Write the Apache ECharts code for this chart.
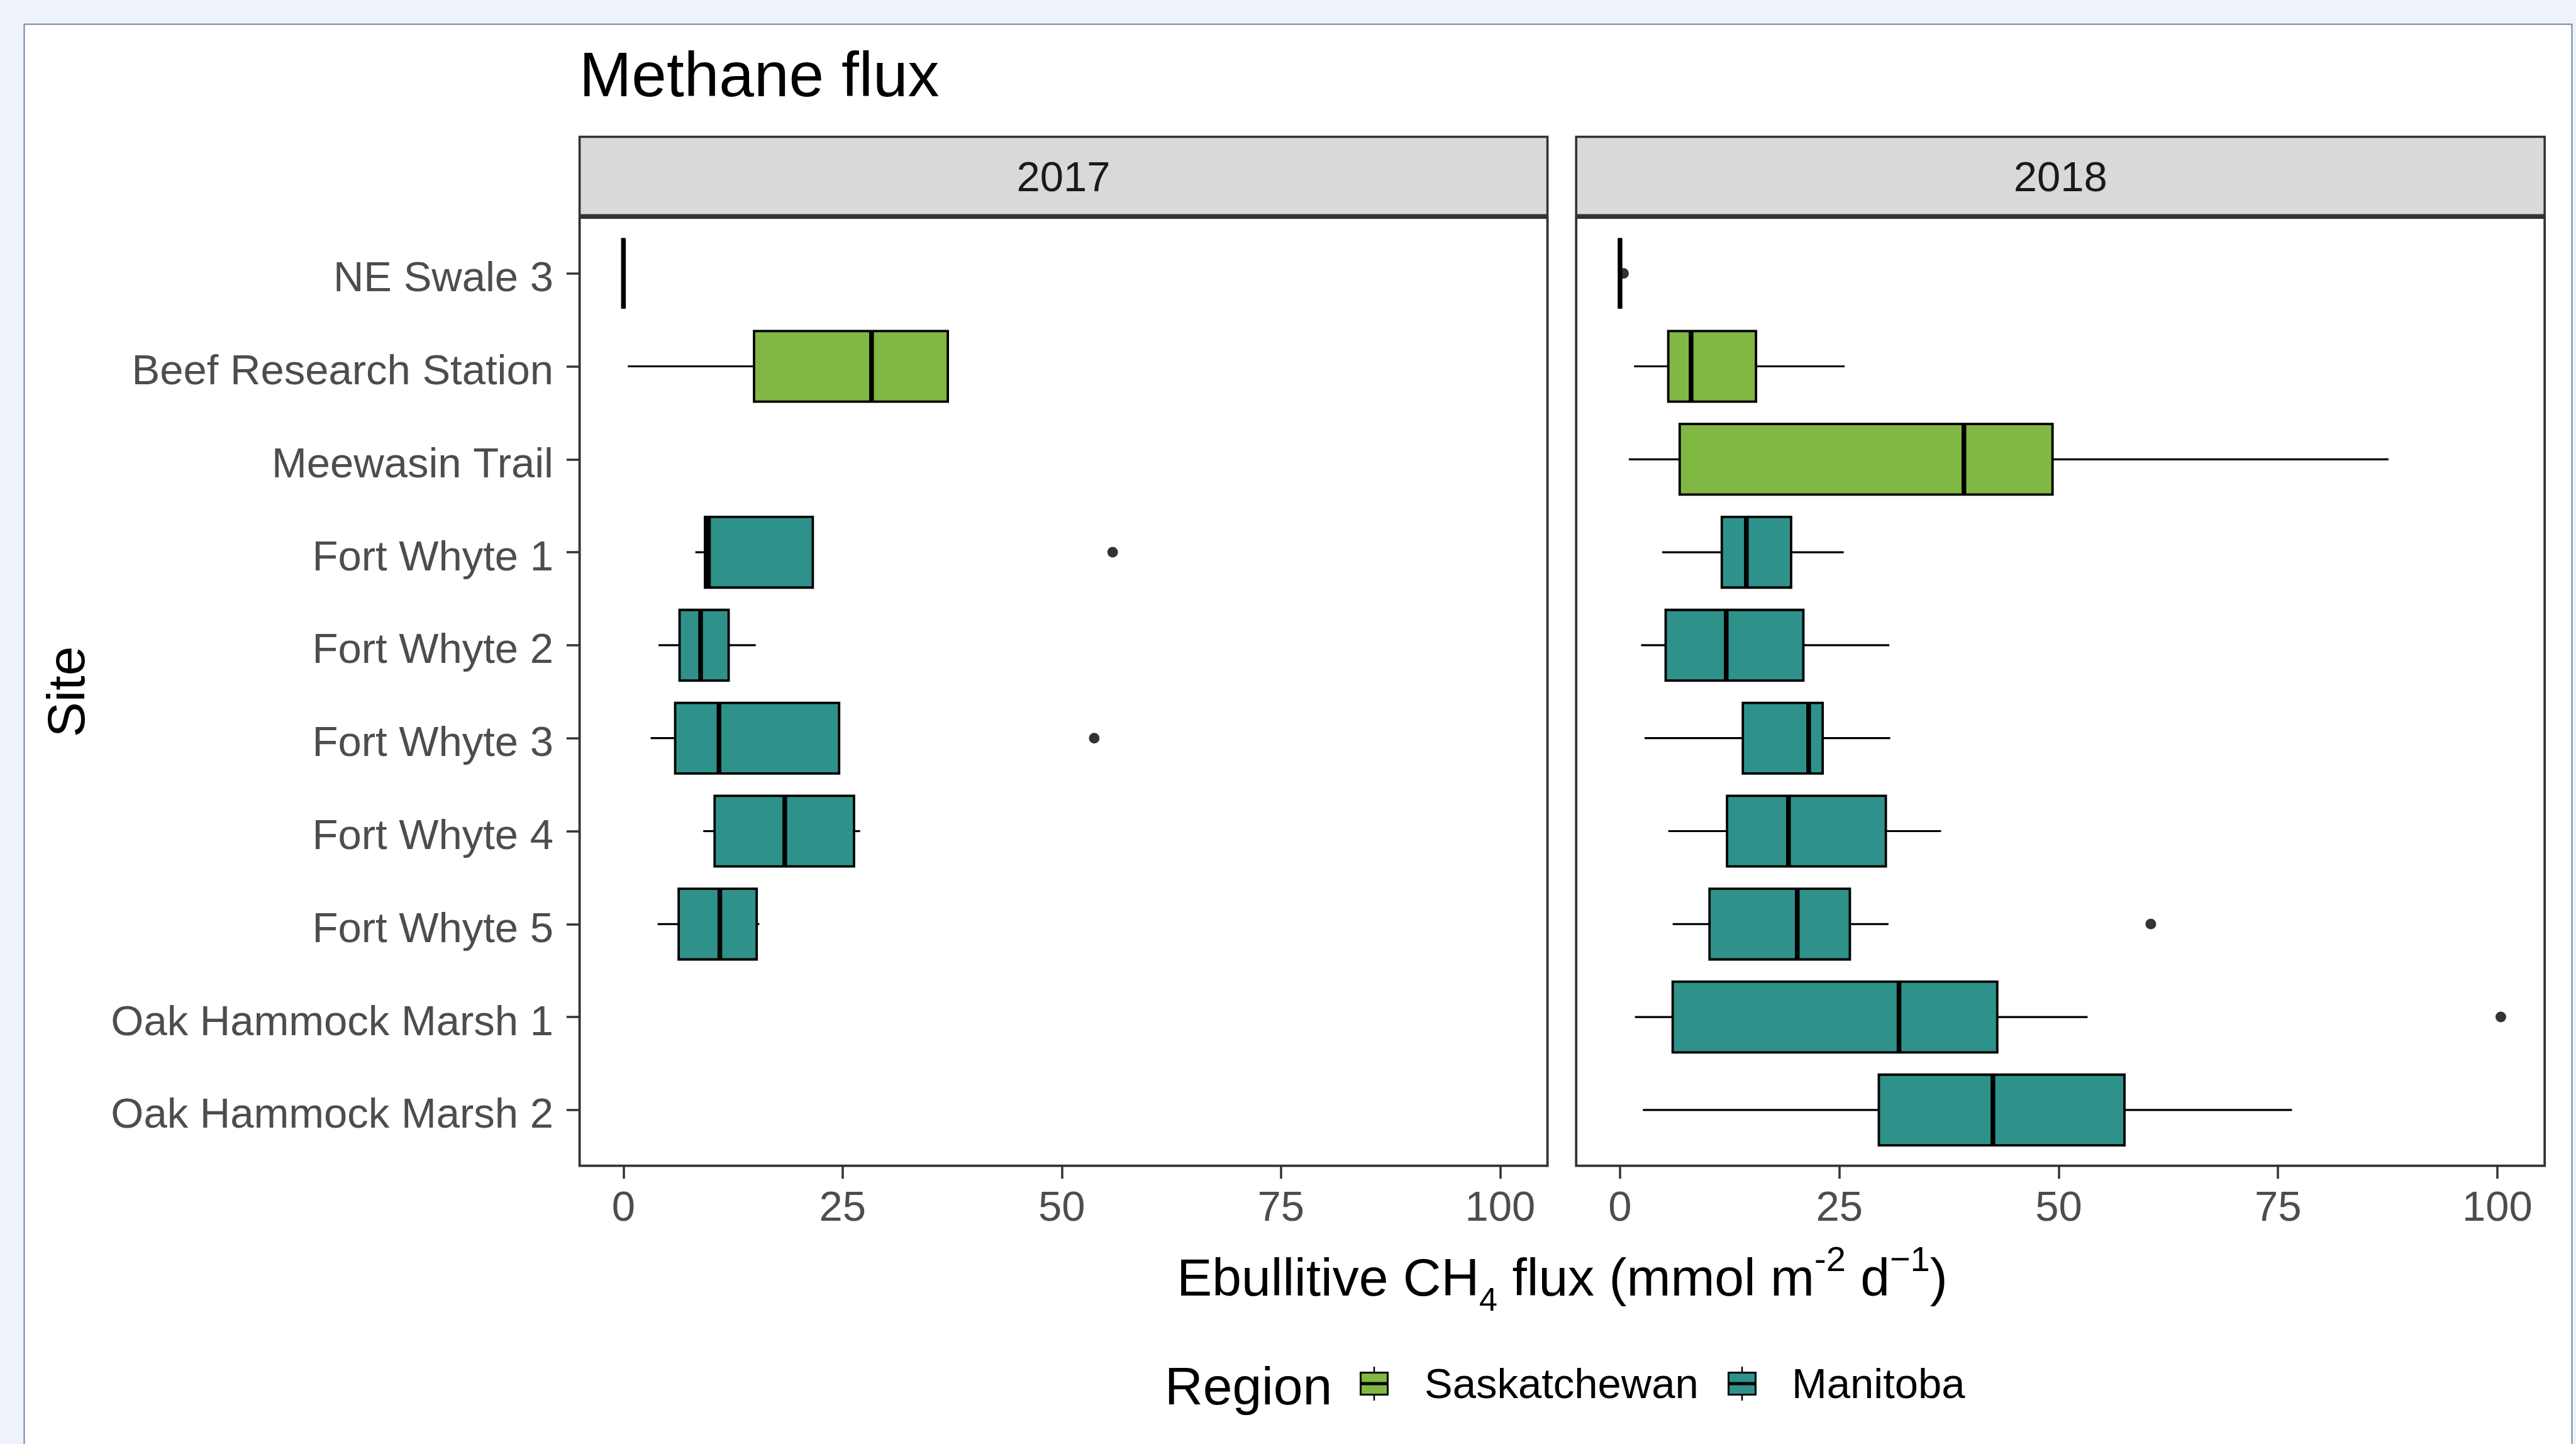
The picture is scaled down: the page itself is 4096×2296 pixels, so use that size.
<!doctype html>
<html>
<head>
<meta charset="utf-8">
<title>Methane flux</title>
<script src="https://cdn.jsdelivr.net/npm/echarts@6/dist/echarts.min.js"></script>
<style type="text/css">
	html, body {
		margin: 0;
		padding: 0;
		background: #eef2fa;
	}
	#chart {
		width: 4096px;
		height: 2296px;
	}
</style>
</head>
<body>
<div id="chart"></div>
<script type="text/javascript">
	var sites = ['NE Swale 3', 'Beef Research Station', 'Meewasin Trail', 'Fort Whyte 1', 'Fort Whyte 2',
		'Fort Whyte 3', 'Fort Whyte 4', 'Fort Whyte 5', 'Oak Hammock Marsh 1', 'Oak Hammock Marsh 2'];
	var siteRegion = [0, 0, 0, 1, 1, 1, 1, 1, 1, 1];
	var regions = ['Saskatchewan', 'Manitoba'];
	var regionColors = ['#80b843', '#2e928a'];
	var years = ['2017', '2018'];
	var xTicks = [0, 25, 50, 75, 100];

	// [min, q1, median, q3, max] for each site, null = no samples that year
	var box2017 = [
		[0, 0, 0, 0, 0],
		[0.5, 14.9, 28.3, 37.0, 37.0],
		null,
		[8.2, 9.3, 9.7, 21.6, 21.6],
		[4.0, 6.4, 8.8, 12.0, 15.1],
		[3.1, 5.9, 10.9, 24.6, 24.6],
		[9.1, 10.4, 18.4, 26.3, 27.0],
		[3.9, 6.3, 11.0, 15.2, 15.5],
		null,
		null
	];
	var box2018 = [
		[0, 0, 0, 0, 0],
		[1.6, 5.5, 8.1, 15.5, 25.6],
		[1.0, 6.8, 39.2, 49.3, 87.6],
		[4.8, 11.6, 14.4, 19.5, 25.5],
		[2.4, 5.2, 12.1, 20.9, 30.7],
		[2.8, 14.0, 21.5, 23.1, 30.8],
		[5.5, 12.2, 19.2, 30.3, 36.6],
		[6.0, 10.2, 20.2, 26.2, 30.6],
		[1.7, 6.0, 31.8, 43.0, 53.3],
		[2.6, 29.5, 42.5, 57.5, 76.6]
	];
	// [site index, value]
	var outliers2017 = [[3, 55.8], [5, 53.7]];
	var outliers2018 = [[0, 0.4], [7, 60.5], [8, 100.4]];

	var boxes = [box2017, box2018];
	var outliers = [outliers2017, outliers2018];

	var FONT = '"Liberation Sans", Arial, Helvetica, sans-serif';
	var panels = [
		{left: 921.6, width: 1539},
		{left: 2506.2, width: 1540}
	];
	var panelTop = 346;
	var panelHeight = 1507.6;
	var siteIdx = sites.map(function (s, k) { return k; });

	function renderBox(params, api) {
		var y = api.value(0);
		var pMin = api.coord([api.value(1), y]);
		var pQ1 = api.coord([api.value(2), y]);
		var pMed = api.coord([api.value(3), y]);
		var pQ3 = api.coord([api.value(4), y]);
		var pMax = api.coord([api.value(5), y]);
		var h = api.size([0, 0.76])[1];
		var fill = regionColors[api.value(6)];
		return {
			type: 'group',
			children: [
				{type: 'line', shape: {x1: pMin[0], y1: pMin[1], x2: pQ1[0], y2: pQ1[1]}, style: {stroke: '#000', lineWidth: 3.2}},
				{type: 'line', shape: {x1: pQ3[0], y1: pQ3[1], x2: pMax[0], y2: pMax[1]}, style: {stroke: '#000', lineWidth: 3.2}},
				{type: 'rect', shape: {x: pQ1[0], y: pQ1[1] - h / 2, width: pQ3[0] - pQ1[0], height: h},
					style: {fill: fill, stroke: '#000', lineWidth: 3.8}},
				{type: 'line', shape: {x1: pMed[0], y1: pMed[1] - h / 2, x2: pMed[0], y2: pMed[1] + h / 2},
					style: {stroke: '#000', lineWidth: 7.5}}
			]
		};
	}

	var grids = [], xAxes = [], yAxes = [], series = [], graphics = [];

	// white card behind the plot
	graphics.push({
		type: 'rect', z: -10, silent: true,
		shape: {x: 38.5, y: 38.5, width: 4051, height: 2400},
		style: {fill: '#fff', stroke: '#7783a0', lineWidth: 2}
	});

	for (var i = 0; i < years.length; i++) {
		grids.push({
			left: panels[i].left, top: panelTop, width: panels[i].width, height: panelHeight,
			show: true, backgroundColor: '#fff', borderColor: '#333', borderWidth: 3.8
		});
		xAxes.push({
			type: 'value', gridIndex: i, min: -5, max: 105.4, position: 'bottom',
			splitLine: {show: false},
			axisLine: {show: false, onZero: false},
			axisTick: {show: true, length: 20.7, customValues: xTicks, lineStyle: {color: '#333', width: 3.5}},
			axisLabel: {customValues: xTicks, margin: 35, fontSize: 67, color: '#4d4d4d', fontFamily: FONT}
		});
		yAxes.push({
			type: 'value', gridIndex: i, min: -0.6, max: 9.6, inverse: true, position: 'left',
			splitLine: {show: false},
			axisLine: {show: false, onZero: false},
			axisTick: {show: i === 0, length: 20.7, customValues: siteIdx,
				lineStyle: {color: '#333', width: 3.5}},
			axisLabel: {
				show: i === 0, customValues: siteIdx,
				formatter: function (v) { return '{s|' + sites[Math.round(v)] + '}'; },
				margin: 41.6,
				rich: {
					s: {fontSize: 67, color: '#4d4d4d', fontFamily: FONT, padding: [20, 0, 0, 0]}
				}
			}
		});

		var data = [];
		for (var j = 0; j < sites.length; j++) {
			var b = boxes[i][j];
			if (!b) continue;
			data.push([j, b[0], b[1], b[2], b[3], b[4], siteRegion[j]]);
		}
		series.push({
			type: 'custom', xAxisIndex: i, yAxisIndex: i,
			renderItem: renderBox,
			encode: {x: [1, 2, 3, 4, 5], y: 0},
			data: data
		});
		series.push({
			type: 'scatter', xAxisIndex: i, yAxisIndex: i,
			symbolSize: 17, itemStyle: {color: '#000'}, z: 5,
			data: outliers[i].map(function (o) { return [o[1], o[0]]; })
		});

		// facet strip
		graphics.push({
			type: 'rect', silent: true,
			shape: {x: panels[i].left, y: 217.5, width: panels[i].width, height: 124.8},
			style: {fill: '#d9d9d9', stroke: '#333', lineWidth: 3.6}
		});
		graphics.push({
			type: 'text', silent: true,
			x: panels[i].left + panels[i].width / 2, y: 286,
			style: {text: years[i], font: '67px ' + FONT, fill: '#1a1a1a', align: 'center', verticalAlign: 'middle'}
		});
	}

	// titles
	graphics.push({
		type: 'text', silent: true, x: 921, y: 125,
		style: {text: 'Methane flux', font: '100px ' + FONT, fill: '#000', align: 'left', verticalAlign: 'middle'}
	});
	graphics.push({
		type: 'text', silent: true, x: 111, y: 1100, rotation: Math.PI / 2,
		style: {text: 'Site', font: '84px ' + FONT, fill: '#000', align: 'center', verticalAlign: 'middle'}
	});
	graphics.push({
		type: 'text', silent: true, x: 2484, y: 2037,
		style: {
			text: '{a|Ebullitive CH}{sub|4}{a| flux (mmol m}{sup|-2}{a| d}{sup|\u22121}{a|)}',
			align: 'center', verticalAlign: 'middle',
			rich: {
				a: {fontSize: 84, lineHeight: 118, fontFamily: FONT, color: '#000'},
				sub: {fontSize: 52, lineHeight: 64, fontFamily: FONT, color: '#000', verticalAlign: 'bottom'},
				sup: {fontSize: 56, lineHeight: 56, fontFamily: FONT, color: '#000', verticalAlign: 'top'}
			}
		}
	});

	// legend
	var legendKeyX = [2185, 2770];
	var legendTextX = [2265, 2849];
	var legendY = 2200;
	graphics.push({
		type: 'text', silent: true, x: 1852, y: 2210,
		style: {text: 'Region', font: '84px ' + FONT, fill: '#000', align: 'left', verticalAlign: 'middle'}
	});
	for (var r = 0; r < regions.length; r++) {
		var cx = legendKeyX[r];
		graphics.push({
			type: 'line', silent: true,
			shape: {x1: cx, y1: legendY - 27, x2: cx, y2: legendY + 27},
			style: {stroke: '#000', lineWidth: 2.5}
		});
		graphics.push({
			type: 'rect', silent: true,
			shape: {x: cx - 21.5, y: legendY - 17.5, width: 43, height: 35},
			style: {fill: regionColors[r], stroke: '#000', lineWidth: 3}
		});
		graphics.push({
			type: 'line', silent: true,
			shape: {x1: cx - 21.5, y1: legendY, x2: cx + 21.5, y2: legendY},
			style: {stroke: '#000', lineWidth: 5}
		});
		graphics.push({
			type: 'text', silent: true, x: legendTextX[r], y: legendY + 5,
			style: {text: regions[r], font: '67px ' + FONT, fill: '#000', align: 'left', verticalAlign: 'middle'}
		});
	}

	var myChart = echarts.init(document.getElementById('chart'));
	myChart.setOption({
		backgroundColor: '#eef2fa',
		animation: false,
		grid: grids,
		xAxis: xAxes,
		yAxis: yAxes,
		series: series,
		graphic: graphics
	});
</script>
</body>
</html>
